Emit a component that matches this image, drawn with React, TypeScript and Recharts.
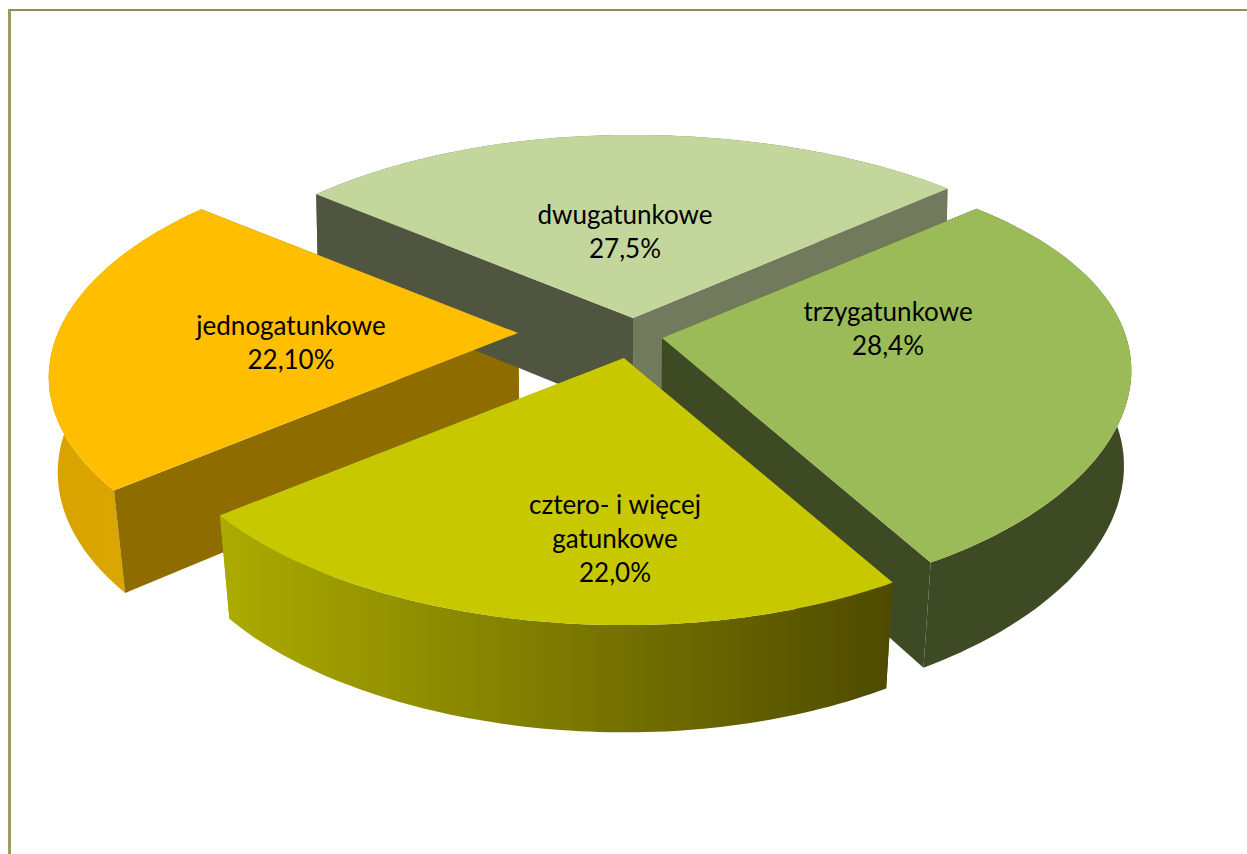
import { PieChart, Pie } from "recharts";

const names = ["jednogatunkowe", "dwugatunkowe", "trzygatunkowe", "cztero- i więcej gatunkowe"];
const values = [22.1, 27.5, 28.4, 22.0];
const labelLines = [
  ["jednogatunkowe", "22,10%"],
  ["dwugatunkowe", "27,5%"],
  ["trzygatunkowe", "28,4%"],
  ["cztero- i więcej", "gatunkowe", "22,0%"],
];

const data = names.map((name, i) => ({ name, value: values[i], index: i }));

// look of each slice: explosion from pie centre, where its text sits, colours
const sliceStyle = [
  { apex: [-122, -7], text: [-227, 9], top: "#FFBE00", startWall: "#8F6C00", endWall: "#8F6C00", rim: ["#D8A300", "#E0A900"] },
  { apex: [-7, -22], text: [-8, -87], top: "#C3D69B", startWall: "#50553F", endWall: "#717A5C", rim: ["#717A5C", "#717A5C"] },
  { apex: [22, -2], text: [226, -10], top: "#9BBB59", startWall: "#3E4A23", endWall: "#3E4A23", rim: ["#3E4A23", "#3E4A23"] },
  { apex: [-16, 18], text: [-9, 180], top: "#C8C800", startWall: "#4F4B00", endWall: "#A8A800", rim: ["#ABAB00", "#4E4A00"] },
];

const CX = 640;
const CY = 340;
const RADIUS = 467;
const START = 220;
const FONT = "Lato, sans-serif";

const rad = (deg: number) => (deg * Math.PI) / 180;

// tilted, slightly foreshortened disc: the near side is larger than the far side
function project(ax: number, ay: number, angle: number, r: number): [number, number] {
  const a = rad(angle);
  const t = angle - 0.5 + 0.5 * Math.cos(a) + 4.5 * Math.cos(a + rad(10)) + 0.5 * Math.sin(a) - 0.8 * Math.sin(2 * a);
  const s = Math.sin(rad(t));
  const c = Math.cos(rad(t));
  const sag = (16 - 6 * c) * (r / RADIUS) * c * c;
  return [ax + c * r * (1 - 0.1 * s), ay - s * r * (0.482 - 0.09 * s) + sag];
}

function drop([x, y]: [number, number]): [number, number] {
  const depth = 92 + ((y - 190) * 14) / 400;
  const lean = 0.006 + (y - 190) * 0.00005;
  return [x - (x - 640) * lean, y + depth];
}

function arc(ax: number, ay: number, from: number, to: number, r: number) {
  const n = Math.max(2, Math.ceil(Math.abs(from - to)));
  const pts: [number, number][] = [];
  for (let i = 0; i <= n; i++) pts.push(project(ax, ay, from + ((to - from) * i) / n, r));
  return pts;
}

const toPath = (pts: [number, number][]) =>
  "M" + pts.map((p) => `${p[0].toFixed(1)},${p[1].toFixed(1)}`).join("L") + "Z";

function WallShape(props: any) {
  const { cx, cy, outerRadius, startAngle, endAngle, payload } = props;
  const st = sliceStyle[payload.index];
  const ax = cx + st.apex[0];
  const ay = cy + st.apex[1];
  const a: [number, number] = [ax, ay];
  const rim = arc(ax, ay, startAngle, endAngle, outerRadius);
  const first = rim[0];
  const last = rim[rim.length - 1];
  const id = `rim-${payload.index}`;
  const rimPath = <path d={toPath([...rim, ...rim.map(drop).reverse()])} fill={`url(#${id})`} />;
  // only the slice facing the viewer shows its rim in front of its straight walls
  const rimInFront = Math.sin(rad((startAngle + endAngle) / 2)) < -0.7;
  return (
    <g>
      <defs>
        <linearGradient id={id} x1="0" y1="0" x2="1" y2="0">
          <stop offset="0" stopColor={st.rim[0]} />
          <stop offset="1" stopColor={st.rim[1]} />
        </linearGradient>
      </defs>
      {!rimInFront && rimPath}
      <path d={toPath([a, first, drop(first), drop(a)])} fill={st.startWall} />
      <path d={toPath([a, last, drop(last), drop(a)])} fill={st.endWall} />
      {rimInFront && rimPath}
    </g>
  );
}

function TopShape(props: any) {
  const { cx, cy, outerRadius, startAngle, endAngle, payload } = props;
  const st = sliceStyle[payload.index];
  const ax = cx + st.apex[0];
  const ay = cy + st.apex[1];
  return <path d={toPath([[ax, ay], ...arc(ax, ay, startAngle, endAngle, outerRadius)])} fill={st.top} />;
}

function SliceLabel(props: any) {
  const { cx, cy, payload } = props;
  const i = payload.index;
  const st = sliceStyle[i];
  const lines = labelLines[i];
  const x = cx + st.apex[0] + st.text[0];
  const y = cy + st.apex[1] + st.text[1] - ((lines.length - 1) * 34) / 2;
  return (
    <text x={x} textAnchor="middle" fontFamily={FONT} fontSize={26} fill="#000">
      {lines.map((line, k) => (
        <tspan key={line} x={x} y={y + k * 34} dominantBaseline="central">
          {line}
        </tspan>
      ))}
    </text>
  );
}

export default function App() {
  return (
    <div style={{ position: "absolute", left: 0, top: 0, width: 1247, height: 854, overflow: "hidden", background: "#fff" }}>
      <div
        style={{
          position: "absolute",
          left: 8,
          top: 9,
          width: 1300,
          height: 900,
          borderLeft: "3px solid #A09A62",
          borderTop: "2px solid #958D58",
        }}
      />
      <div style={{ position: "absolute", left: 0, top: 0 }}>
        <PieChart width={1247} height={854} margin={{ top: 0, right: 0, bottom: 0, left: 0 }}>
          <Pie
            data={data}
            dataKey="value"
            nameKey="name"
            cx={CX}
            cy={CY}
            outerRadius={RADIUS}
            startAngle={START}
            endAngle={START - 360}
            stroke="none"
            shape={WallShape}
            isAnimationActive={false}
          />
          <Pie
            data={data}
            dataKey="value"
            nameKey="name"
            cx={CX}
            cy={CY}
            outerRadius={RADIUS}
            startAngle={START}
            endAngle={START - 360}
            stroke="none"
            shape={TopShape}
            label={SliceLabel}
            labelLine={false}
            isAnimationActive={false}
          />
        </PieChart>
      </div>
    </div>
  );
}
